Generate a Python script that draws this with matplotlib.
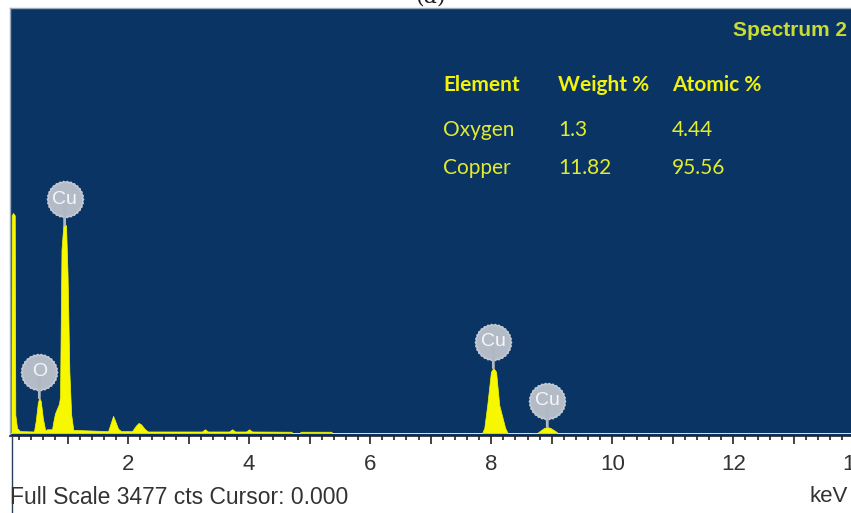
import numpy as np
import matplotlib
matplotlib.use('Agg')
import matplotlib.pyplot as plt
from matplotlib.lines import Line2D
from matplotlib.path import Path
from matplotlib.transforms import offset_copy

# EDS spectrum outline (keV, counts)
energy = [0.041, 0.072, 0.077, 0.100, 0.128, 0.137, 0.165, 0.215,
          0.445, 0.475, 0.510, 0.534, 0.558, 0.592, 0.632, 0.661, 0.744,
          0.760, 0.793, 0.826, 0.860, 0.876, 0.900, 0.930, 0.975, 1.000, 1.030, 1.060, 1.095,
          1.67, 1.72, 1.752, 1.785, 1.835, 1.884,
          2.066, 2.13, 2.174, 2.215, 2.28, 2.33,
          3.22, 3.27, 3.32, 3.67, 3.72, 3.77, 3.95, 4.0, 4.05, 4.70, 4.71, 4.84, 4.85, 5.36, 5.37,
          7.85, 7.885, 7.934, 7.995, 8.035, 8.08, 8.132, 8.23, 8.27,
          8.76, 8.80, 8.87, 8.926, 8.98, 9.06, 9.10, 14.0]
counts = [0, 0, 1780, 1800, 1780, 150, 40, 15,
          12, 100, 250, 286, 260, 120, 20, 30, 30,
          80, 160, 200, 240, 300, 1500, 1700, 1700, 1300, 500, 150, 25,
          15, 90, 140, 100, 35, 15,
          15, 60, 82, 70, 30, 12,
          12, 30, 12, 12, 30, 12, 12, 30, 12, 10, 0, 0, 10, 10, 0,
          0, 41, 229, 500, 532, 500, 229, 41, 0,
          0, 15, 40, 49, 40, 15, 0, 0]

# peak markers
peak_names = ['O', 'Cu', 'Cu', 'Cu']
peak_kev = [0.534, 0.952, 8.035, 8.926]
peak_cts = [286, 1700, 532, 49]

# quantification table
headers = ['Element', 'Weight %', 'Atomic %']
elements = ['Oxygen', 'Copper']
weight_pct = ['1.3', '11.82']
atomic_pct = ['4.44', '95.56']

tick_pos = list(range(1, 15))
tick_labels = ['', '2', '', '4', '', '6', '', '8', '', '10', '', '12', '', '14']
full_scale = 3477

W, H = 851, 513
fig = plt.figure(figsize=(W / 100, H / 100), dpi=100)
ax = fig.add_axes([9.5 / W, 1 - 436 / H, (854.4 - 9.5) / W, 428 / H])
ax.set_facecolor('#0A3464')

ax.fill_between(energy, 0, counts, color='#F7F700', lw=0.5, ec='#F7F700')
ax.set_xlim(0.041, 14.0)
ax.set_ylim(-25, full_scale)
ax.set_yticks([])

ax.set_xticks(tick_pos)
ax.set_xticklabels(tick_labels)
ax.set_xticks(np.arange(0.2, 14, 0.2), minor=True)
ax.tick_params(axis='x', which='major', direction='out', length=6, width=1.2,
               color='#222222', labelsize=16, labelcolor='#333333', pad=7)
ax.tick_params(axis='x', which='minor', direction='out', length=3, width=1.2,
               color='#222222')
for lab in ax.get_xticklabels():
    lab.set_family(['Liberation Sans', 'DejaVu Sans'])

for s in ['left', 'top']:
    ax.spines[s].set_color('#9AAABB')
    ax.spines[s].set_linewidth(1)
ax.spines['right'].set_visible(False)
ax.spines['bottom'].set_color('#222222')
ax.spines['bottom'].set_linewidth(1.2)

# cog shaped bubble marker
ang = np.linspace(0, 2 * np.pi, 61)
rad = np.where(np.arange(61) % 2 == 0, 1.0, 0.94)
cog = Path(np.column_stack([rad * np.cos(ang), rad * np.sin(ang)]), closed=True)

# element bubbles
up = 26
tr = offset_copy(ax.transData, fig=fig, x=0, y=up, units='dots')
for name, k, c in zip(peak_names, peak_kev, peak_cts):
    ax.annotate('', xy=(k, c), xytext=(0, up), textcoords='offset pixels',
                arrowprops=dict(arrowstyle='-', color='#B0B8C4', lw=2,
                                shrinkA=0, shrinkB=0))
    ax.plot(k, c, marker=cog, ms=26, mfc='#B3BBC7', mec='#C3CAD4', mew=1.2,
            transform=tr, clip_on=False)
    ax.text(k, c, name, transform=tr, ha='center', va='center',
            color='#F4F6FA', fontsize=14,
            family=['Liberation Sans Narrow', 'Liberation Sans', 'DejaVu Sans'])

# title and table
fig.text(847 / W, 1 - 36 / H, 'Spectrum 2', ha='right', va='baseline',
         color='#C9DC32', fontsize=15, fontweight='bold',
         family=['Liberation Sans Narrow', 'Liberation Sans', 'DejaVu Sans'])

col_x = [443, 558, 672]
for x, h in zip(col_x, headers):
    fig.text(x / W, 1 - 90.7 / H, h, ha='left', va='baseline', color='#F2F20A',
             fontsize=15, fontweight='bold', family='Lato')
row_y = [136, 174]
for y, e, w, a in zip(row_y, elements, weight_pct, atomic_pct):
    for x, t in zip(col_x, [e, w, a]):
        fig.text(x / W, 1 - y / H, t, ha='left', va='baseline', color='#E3EC2C',
                 fontsize=15, family='Lato')

# bottom status line
fig.text(10 / W, 1 - 497 / H, 'Full Scale %d cts Cursor: 0.000' % full_scale,
         ha='left', va='center', color='#333333', fontsize=16.5,
         family=['Liberation Sans', 'DejaVu Sans'])
fig.text(848 / W, 1 - 497 / H, 'keV', ha='right', va='center', color='#333333',
         fontsize=16, family=['Liberation Sans', 'DejaVu Sans'])

# cut-off panel letter at the very top
fig.text(0.506, 1 + 3 / H, '(a)', ha='center', va='center', fontsize=16,
         family='DejaVu Serif', color='#222222')

fig.add_artist(Line2D([11.5 / W, 11.5 / W], [0, 1 - 437 / H], color='#2B3F5C', lw=1))

fig.savefig('out.png', dpi=100)
